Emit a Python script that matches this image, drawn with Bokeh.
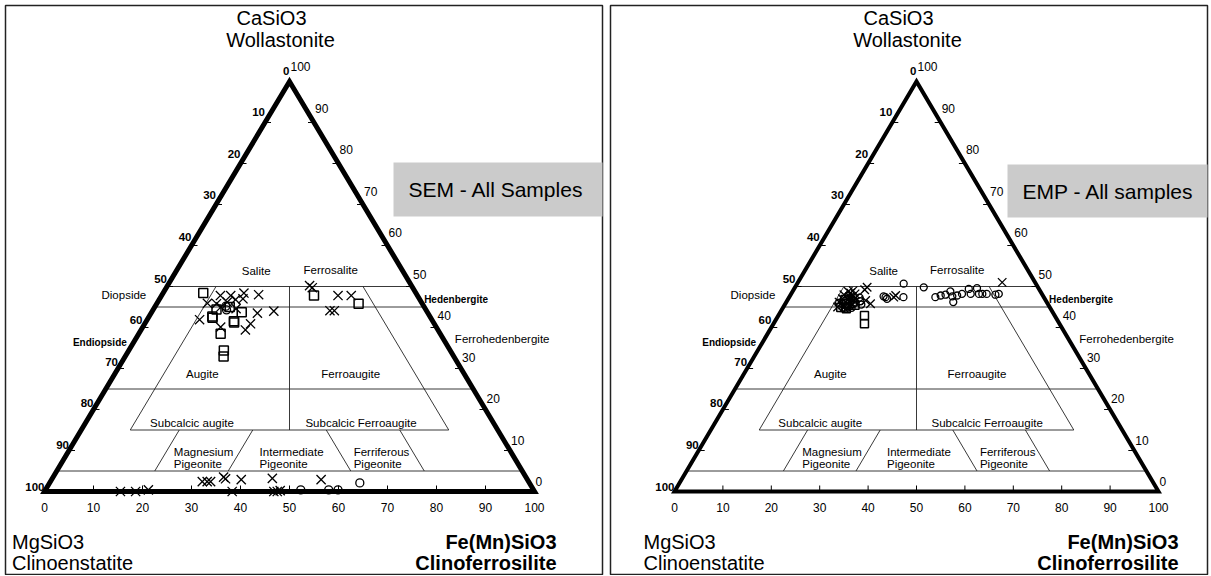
from bokeh.plotting import figure
from bokeh.layouts import row
from bokeh.models import Range1d
from bokeh.core.properties import value
from bokeh.embed import file_html
from bokeh.resources import INLINE

# ---------------- data: Wo and Fs (mol %) ----------------
# SEM - All Samples
sem_cross_wo = [50.2, 49.7, 47.8, 47.8, 44.1, 44.1,
                47.8, 47.8, 48.4, 48.0, 45.9, 45.8, 46.2, 46.8, 43.5, 44.0,
                41.9, 40.1, 40.9, 39.4, 45.0, 44.6, 47.0,
                0.0, 0.0, 0.4, 0.0, 0.0, 0.0, 0.2,
                2.4, 2.4, 2.4, 3.5, 3.1, 2.9, 3.2, 2.9]
sem_cross_fs = [29.0, 29.8, 36.0, 38.7, 36.2, 37.1,
                12.0, 14.1, 16.5, 19.7, 10.3, 12.2, 14.2, 15.6, 21.7, 24.8,
                10.7, 15.9, 21.6, 21.3, 13.5, 16.8, 17.0,
                15.5, 18.6, 21.0, 38.3, 46.8, 47.5, 48.0,
                31.0, 32.0, 32.7, 34.8, 35.4, 38.7, 44.9, 55.0]
sem_square_wo = [48.4, 47.8, 42.7, 42.4, 41.5, 41.2, 43.7, 38.5, 34.4, 32.9, 45.0, 45.8, 44.4]
sem_square_fs = [8.2, 31.1, 12.9, 13.1, 17.9, 18.1, 18.4, 16.7, 19.4, 20.1, 15.3, 41.2, 12.9]
sem_circle_wo = [44.3, 45.2, 0.4, 0.4, 0.4, 2.1]
sem_circle_fs = [15.0, 14.4, 52.1, 57.8, 59.7, 63.3]

# EMP - All samples
emp_cross_wo = [48.8, 48.0, 47.5, 47.0, 46.5, 46.0, 45.5, 45.0, 48.2, 47.2, 46.3, 45.3,
                49.8, 49.2, 45.8, 46.6, 47.8, 47.4, 51.0, 48.4, 47.6, 46.8, 45.9,
                44.8, 49.0, 46.2]
emp_cross_fs = [11.5, 11.0, 12.5, 11.2, 12.8, 11.5, 12.0, 11.2, 13.2, 13.8, 14.2, 13.6,
                14.9, 14.7, 17.6, 16.2, 21.8, 21.6, 42.2, 12.2, 12.9, 13.1, 13.4,
                12.6, 12.4, 10.9]
emp_square_wo = [46.8, 45.8, 45.0, 44.6, 46.2, 45.4, 44.9, 42.9, 40.9]
emp_square_fs = [11.8, 12.6, 12.8, 13.2, 13.8, 14.6, 11.9, 17.8, 18.8]
emp_circle_wo = [47.8, 47.0, 46.0, 45.2, 44.8, 46.4, 45.6, 46.9, 45.7, 47.3,
                 47.6, 47.0, 47.4, 47.4, 50.7, 49.8,
                 47.4, 47.8, 48.0, 48.8, 47.6, 46.2, 47.8, 48.2, 49.4, 48.2, 49.6, 48.2,
                 48.2, 48.2, 48.0, 48.2]
emp_circle_fs = [12.0, 13.0, 11.0, 13.0, 14.2, 15.2, 15.8, 12.3, 14.0, 14.6,
                 19.4, 20.4, 19.9, 23.6, 22.0, 26.6,
                 30.2, 31.1, 32.0, 32.6, 33.6, 34.5, 34.5, 35.3, 36.1, 37.1, 37.7, 38.8,
                 39.5, 40.4, 42.3, 42.9]

tick_values = [0, 10, 20, 30, 40, 50, 60, 70, 80, 90, 100]

# field names (text, ternary x = Fs + Wo/2, Wo)
field_names = ["Salite", "Ferrosalite", "Diopside", "Augite", "Ferroaugite",
               "Subcalcic augite", "Subcalcic Ferroaugite", "Ferrohedenbergite"]
field_x = [43.2, 58.4, 16.2, 32.2, 62.5, 30.1, 64.6, 93.4]
field_wo = [53.9, 54.1, 48.0, 28.7, 28.7, 16.7, 16.7, 37.2]
pig_names = ["Magnesium", "Pigeonite", "Intermediate", "Pigeonite", "Ferriferous", "Pigeonite"]
pig_x = [26.4, 26.4, 43.9, 43.9, 63.1, 63.1]
pig_wo = [9.6, 6.8, 9.6, 6.8, 9.6, 6.8]
bold_names = ["Hedenbergite", "Endiopside"]
bold_x = [84.0, 11.3]
bold_wo = [46.8, 36.4]

FONT = value("Liberation Sans")
PY0, H = 0, 575
BASE_PY, APEX_PY = 491, 81


def tern(wo, fs):
    return [f + w / 2.0 for w, f in zip(wo, fs)], list(wo)


def panel(px0, width, bl, br, edge_w, frame, box, box_text, title_cx, bot_left, bot_right,
          cross, square, circle, msz):
    sx = (br - bl) / 100.0
    sy = (BASE_PY - APEX_PY) / 100.0
    X = lambda px: (px - bl) / sx
    Y = lambda py: (BASE_PY - py) / sy
    p = figure(width=width, height=H, x_range=Range1d(X(px0), X(px0 + width)),
               y_range=Range1d(Y(PY0 + H), Y(PY0)), output_backend="svg",
               toolbar_location=None, min_border=0, x_axis_location=None,
               y_axis_location=None, outline_line_color=None,
               background_fill_color="white", border_fill_color="white")
    p.xgrid.visible = False
    p.ygrid.visible = False

    # panel frame
    p.quad(left=X(frame[0]), right=X(frame[1]), top=Y(frame[2]), bottom=Y(frame[3]),
           fill_color=None, line_color="#222222", line_width=1.5)

    # grey label box
    p.quad(left=X(box[0]), right=X(box[1]), top=Y(box[2]), bottom=Y(box[3]),
           fill_color="#cbcbcb", line_color=None)
    p.text(x=[X(box[0] + 15)], y=[Y((box[2] + box[3]) / 2)], text=[box_text],
           text_font=FONT, text_font_size="21px", text_align="left",
           text_baseline="middle", text_color="black")

    # field boundary lines (thin)
    x0s, y0s, x1s, y1s = [], [], [], []
    for w in [50, 45, 25, 5]:
        x0s.append(w / 2.0); y0s.append(w); x1s.append(100 - w / 2.0); y1s.append(w)
    x0s.append(10 + 7.5); y0s.append(15); x1s.append(82.5); y1s.append(15)
    # Fs = 10 and En = 10 from Wo 50 to Wo 15, En = Fs divider
    x0s.append(10 + 25); y0s.append(50); x1s.append(10 + 7.5); y1s.append(15)
    x0s.append(40 + 25); y0s.append(50); x1s.append(75 + 7.5); y1s.append(15)
    x0s.append(50); y0s.append(50); x1s.append(50); y1s.append(15)
    for fs in [20, 35]:
        x0s.append(fs + 7.5); y0s.append(15); x1s.append(fs + 2.5); y1s.append(5)
    for en in [35, 20]:
        x0s.append(100 - 15 - en + 7.5); y0s.append(15)
        x1s.append(100 - 5 - en + 2.5); y1s.append(5)
    p.segment(x0=x0s, y0=y0s, x1=x1s, y1=y1s, line_color="#222222", line_width=0.9)

    # ticks
    tl = 6.0
    tx0, ty0, tx1, ty1 = [], [], [], []
    for v in tick_values[1:-1]:
        tx0.append(v); ty0.append(0); tx1.append(v); ty1.append(tl / sy)
        wo = 100 - v
        tx0.append(wo / 2.0); ty0.append(wo); tx1.append(wo / 2.0 + tl / sx); ty1.append(wo)
        tx0.append(100 - v / 2.0); ty0.append(v); tx1.append(100 - v / 2.0 - tl / sx); ty1.append(v)
    p.segment(x0=tx0, y0=ty0, x1=tx1, y1=ty1, line_color="black", line_width=1)

    # triangle
    p.line(x=[0, 100, 50, 0, 100], y=[0, 0, 100, 0, 0], line_color="black",
           line_width=edge_w, line_join="miter")

    # tick labels
    lx = [(100 - e) / 2.0 for e in tick_values]
    ly = [(100 - e) + (5 + 6 * (100 - e) / 100.0) / sy for e in tick_values]
    p.text(x=lx, y=ly, text=[str(e) for e in tick_values], text_font=FONT,
           text_font_size="11.5px", text_font_style="bold", text_align="right",
           text_baseline="middle", text_color="black")
    rx = [100 - w / 2.0 + 1.0 / sx for w in tick_values]
    ry = [w + (10 + 5 * w / 100.0) / sy for w in tick_values]
    p.text(x=rx, y=ry, text=[str(w) for w in tick_values], text_font=FONT,
           text_font_size="12px", text_align="left", text_baseline="middle",
           text_color="black")
    p.text(x=list(tick_values), y=[-16.0 / sy] * len(tick_values),
           text=[str(f) for f in tick_values], text_font=FONT, text_font_size="12px",
           text_align="center", text_baseline="middle", text_color="black")

    # field names
    p.text(x=field_x, y=field_wo, text=field_names, text_font=FONT,
           text_font_size="11.5px", text_align="center", text_baseline="middle",
           text_color="black")
    p.text(x=pig_x, y=pig_wo, text=pig_names, text_font=FONT, text_font_size="11.5px",
           text_align="left", text_baseline="middle", text_color="black")
    p.text(x=bold_x, y=bold_wo, text=bold_names, text_font=FONT,
           text_font_size="10px", text_font_style="bold", text_align="center",
           text_baseline="middle", text_color="black")

    # end-member labels
    p.text(x=[X(title_cx - 18), X(title_cx - 9)], y=[Y(17), Y(39)],
           text=["CaSiO3", "Wollastonite"], text_font=FONT, text_font_size="20px",
           text_align="center", text_baseline="middle", text_color="black")
    p.text(x=[X(bot_left)] * 2, y=[Y(541), Y(562)], text=["MgSiO3", "Clinoenstatite"],
           text_font=FONT, text_font_size="20px", text_align="left",
           text_baseline="middle", text_color="black")
    p.text(x=[X(bot_right)] * 2, y=[Y(541), Y(562)], text=["Fe(Mn)SiO3", "Clinoferrosilite"],
           text_font=FONT, text_font_size="20px", text_font_style="bold",
           text_align="right", text_baseline="middle", text_color="black")

    # data points
    cx, cy = tern(*cross)
    p.scatter(cx, cy, marker="x", size=msz[0], line_color="black", line_width=1.3)
    sqx, sqy = tern(*square)
    p.scatter(sqx, sqy, marker="square", size=msz[1], fill_color=None,
              line_color="black", line_width=1.5)
    ox, oy = tern(*circle)
    p.scatter(ox, oy, marker="circle", size=msz[2], fill_color=None,
              line_color="black", line_width=1.3)
    return p


p1 = panel(0, 606, 44, 534, 5, (5, 602, 5, 574), (393, 602, 162, 216),
           "SEM - All Samples", 289, 11.5, 556,
           (sem_cross_wo, sem_cross_fs), (sem_square_wo, sem_square_fs),
           (sem_circle_wo, sem_circle_fs), (13, 9, 8))
p2 = panel(606, 605, 674, 1158, 4, (610, 1207, 5, 574), (1007, 1207, 164, 217),
           "EMP - All samples", 916, 643, 1178,
           (emp_cross_wo, emp_cross_fs), (emp_square_wo, emp_square_fs),
           (emp_circle_wo, emp_circle_fs), (12, 8, 7))

layout = row(p1, p2, spacing=0)
open("out.html", "w").write(file_html(layout, INLINE))
